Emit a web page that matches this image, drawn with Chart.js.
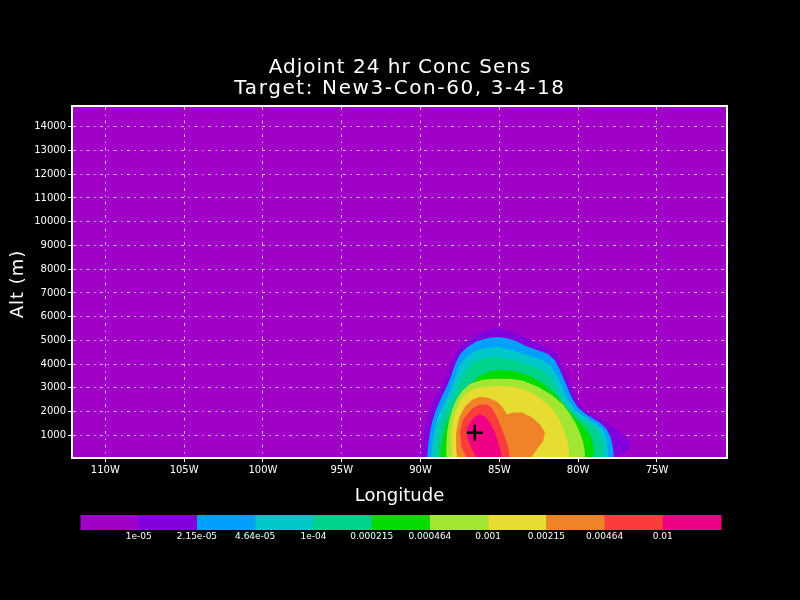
<!DOCTYPE html>
<html>
<head>
<meta charset="utf-8">
<script src="https://cdn.jsdelivr.net/npm/chart.js@4"></script>
<style>
  html, body { margin: 0; padding: 0; background: #000; }
  canvas { display: block; }
</style>
</head>
<body>
<canvas id="sensChart" width="800" height="600"></canvas>
<script>
// tick positions (deg lon / metres)
const lonTicks = [-110, -105, -100, -95, -90, -85, -80, -75];
const altTicks = [1000, 2000, 3000, 4000, 5000, 6000, 7000, 8000, 9000, 10000, 11000, 12000, 13000, 14000];

// shading levels (GrADS rainbow)
const levelColors = ['#a000c8', '#8200dc', '#00a0ff', '#00c8c8', '#00d28c', '#00dc00',
                     '#a0e632', '#e6dc32', '#f08228', '#fa3c3c', '#f00082'];
const levelLabels = ['1e-05', '2.15e-05', '4.64e-05', '1e-04', '0.000215', '0.000464',
                     '0.001', '0.00215', '0.00464', '0.01'];

// contour outlines, [lon, alt] pairs, outer level first
const contour1 = [[-89.96,0],[-89.89,623],[-89.77,1167],[-89.58,1669],[-89.39,2088],[-89.07,2590],
  [-88.69,3050],[-88.37,3510],[-88.12,3929],[-87.87,4347],[-87.49,4724],[-86.98,5017],[-86.35,5268],
  [-85.72,5435],[-85.21,5519],[-84.64,5435],[-84.01,5310],[-83.31,5100],[-82.61,4891],[-81.92,4640],
  [-81.41,4473],[-81.09,4012],[-80.72,3510],[-80.27,2925],[-79.96,2381],[-79.51,2046],[-78.63,1711],
  [-77.74,1335],[-77.11,1000],[-76.73,707],[-76.66,456],[-76.98,289],[-77.61,121],[-77.87,0]];
const contour2 = [[-89.58,0],[-89.51,623],[-89.39,1167],[-89.26,1586],[-89.01,2088],[-88.69,2590],
  [-88.37,3008],[-88.06,3510],[-87.80,4012],[-87.49,4431],[-87.04,4724],[-86.41,4975],[-85.72,5100],
  [-85.15,5142],[-84.58,5100],[-83.94,4975],[-83.31,4766],[-82.61,4598],[-81.92,4431],[-81.47,4180],
  [-81.16,3761],[-80.78,3176],[-80.40,2590],[-80.02,2172],[-79.39,1837],[-78.63,1544],[-78.18,1251],
  [-77.93,916],[-77.80,540],[-77.74,205],[-77.80,0]];
const contour3 = [[-89.32,0],[-89.26,623],[-89.13,1167],[-88.94,1669],[-88.69,2088],[-88.37,2548],
  [-88.06,2966],[-87.80,3427],[-87.49,3929],[-87.11,4305],[-86.54,4556],[-85.78,4682],[-85.15,4724],
  [-84.51,4640],[-83.82,4515],[-83.06,4347],[-82.30,4180],[-81.73,3929],[-81.35,3510],[-80.97,2966],
  [-80.59,2423],[-80.15,2046],[-79.51,1753],[-78.82,1460],[-78.37,1167],[-78.18,833],[-78.12,414],
  [-78.12,0]];
const contour4 = [[-89.07,0],[-89.01,623],[-88.88,1126],[-88.69,1586],[-88.44,2004],[-88.12,2423],
  [-87.80,2841],[-87.49,3301],[-87.11,3761],[-86.60,4096],[-85.91,4264],[-85.15,4305],[-84.45,4222],
  [-83.69,4096],[-82.93,3929],[-82.23,3720],[-81.79,3427],[-81.41,3008],[-81.03,2548],[-80.65,2172],
  [-80.15,1879],[-79.51,1586],[-78.88,1293],[-78.56,958],[-78.44,582],[-78.44,0]];
const contour5 = [[-88.75,0],[-88.69,498],[-88.56,1000],[-88.37,1460],[-88.06,1962],[-87.68,2381],
  [-87.30,2757],[-86.85,3134],[-86.35,3469],[-85.65,3678],[-84.96,3761],[-84.20,3720],[-83.44,3594],
  [-82.68,3385],[-82.04,3092],[-81.47,2757],[-81.03,2381],[-80.59,2046],[-80.15,1711],[-79.64,1377],
  [-79.26,1042],[-79.07,665],[-79.01,331],[-79.01,0]];
const contour6 = [[-88.37,0],[-88.37,623],[-88.31,1167],[-88.18,1669],[-87.99,2088],[-87.74,2506],
  [-87.36,2883],[-86.85,3176],[-86.09,3343],[-85.27,3385],[-84.32,3385],[-83.50,3301],[-82.55,3050],
  [-81.60,2674],[-80.97,2297],[-80.53,1920],[-80.15,1502],[-79.89,1126],[-79.70,749],[-79.58,331],
  [-79.58,0]];
const contour7 = [[-87.99,0],[-88.06,623],[-88.06,1167],[-87.93,1669],[-87.74,2088],[-87.49,2464],
  [-87.11,2757],[-86.60,2966],[-85.91,3050],[-84.96,3092],[-84.13,3050],[-83.37,2925],[-82.61,2674],
  [-81.98,2339],[-81.47,1962],[-81.09,1544],[-80.84,1126],[-80.65,707],[-80.59,331],[-80.59,0]];
const contour8 = [[-87.68,0],[-87.74,540],[-87.74,1126],[-87.55,1753],[-87.17,2213],[-86.73,2506],
  [-86.22,2632],[-85.72,2590],[-85.15,2423],[-84.83,2213],[-84.51,1879],[-84.13,1962],[-83.56,1962],
  [-82.93,1753],[-82.42,1460],[-82.11,1126],[-82.23,749],[-82.61,414],[-83.06,0]];
const contour9 = [[-87.04,0],[-87.42,540],[-87.49,1126],[-87.30,1669],[-86.73,2130],[-86.22,2297],
  [-85.78,2297],[-85.46,2130],[-85.08,1669],[-84.70,1042],[-84.45,540],[-84.32,0]];
const contour10 = [[-86.41,0],[-86.73,414],[-87.04,916],[-87.04,1335],[-86.73,1669],[-86.41,1837],
  [-86.22,1879],[-85.91,1795],[-85.59,1544],[-85.27,1126],[-85.08,707],[-84.89,289],[-84.83,0]];

const contours = [contour1, contour2, contour3, contour4, contour5, contour6, contour7, contour8, contour9, contour10];

// target location marker
const markerLon = -86.56;
const markerAlt = 1110;

const txtFont = '"DejaVu Sans", sans-serif';

const datasets = contours.map((c, i) => ({
    label: levelLabels[i],
    data: c.map(p => ({ x: p[0], y: p[1] })),
    showLine: true,
    fill: 'shape',
    backgroundColor: levelColors[i + 1],
    borderColor: 'transparent',
    borderWidth: 0,
    pointRadius: 0,
    order: 100 - i
}));

datasets.push({
    label: 'target',
    data: [{ x: markerLon, y: markerAlt }],
    pointStyle: 'cross',
    pointRadius: 8,
    borderColor: '#000',
    backgroundColor: '#000',
    borderWidth: 2.5,
    order: 0
});

const gradsDecor = {
    id: 'gradsDecor',
    beforeDraw(chart) {
        const { ctx, chartArea: a } = chart;
        ctx.save();
        ctx.fillStyle = '#000';
        ctx.fillRect(0, 0, chart.width, chart.height);
        ctx.fillStyle = levelColors[0];
        ctx.fillRect(a.left, a.top, a.right - a.left, a.bottom - a.top);
        ctx.restore();
    },
    afterDraw(chart) {
        const { ctx, chartArea: a } = chart;
        ctx.save();
        // frame
        ctx.strokeStyle = '#fff';
        ctx.lineWidth = 2;
        ctx.strokeRect(a.left - 1, a.top - 1, a.right - a.left + 2, a.bottom - a.top + 2);

        // titles
        ctx.fillStyle = '#fff';
        ctx.textAlign = 'center';
        ctx.textBaseline = 'alphabetic';
        ctx.font = '20px ' + txtFont;
        ctx.letterSpacing = '1px';
        ctx.fillText('Adjoint 24 hr Conc Sens', 400, 73);
        ctx.letterSpacing = '1.6px';
        ctx.fillText('Target: New3-Con-60, 3-4-18', 400, 94);

        ctx.font = '18px ' + txtFont;
        ctx.letterSpacing = '0px';
        ctx.fillText('Longitude', (a.left + a.right) / 2, 501);

        ctx.save();
        ctx.translate(23, (a.top + a.bottom) / 2 + 2);
        ctx.rotate(-Math.PI / 2);
        ctx.letterSpacing = '1px';
        ctx.fillText('Alt (m)', 0, 0);
        ctx.restore();
        ctx.letterSpacing = '0px';

        // colour bar
        const x0 = 80.5, x1 = 721, y0 = 515, h = 15;
        const w = (x1 - x0) / levelColors.length;
        levelColors.forEach((c, i) => {
            ctx.fillStyle = c;
            ctx.fillRect(x0 + i * w, y0, w + 0.5, h);
        });
        ctx.fillStyle = '#fff';
        ctx.font = '9px ' + txtFont;
        ctx.textBaseline = 'middle';
        levelLabels.forEach((l, i) => {
            ctx.fillText(l, x0 + (i + 1) * w, y0 + h + 7);
        });
        ctx.restore();
    }
};

new Chart(document.getElementById('sensChart'), {
    type: 'scatter',
    data: { datasets: datasets },
    plugins: [gradsDecor],
    options: {
        responsive: false,
        animation: false,
        events: [],
        layout: { padding: { top: 107, right: 74, left: 0, bottom: 0 } },
        plugins: { legend: { display: false }, tooltip: { enabled: false } },
        scales: {
            x: {
                type: 'linear',
                min: -112.05,
                max: -70.62,
                z: 1,
                afterBuildTicks: s => { s.ticks = lonTicks.map(v => ({ value: v })); },
                afterFit: s => { s.height = 143; },
                ticks: {
                    color: '#fff',
                    font: { family: txtFont, size: 10 },
                    padding: 2,
                    maxRotation: 0,
                    autoSkip: false,
                    callback: v => (-v) + 'W'
                },
                grid: { color: '#bdbdbd', lineWidth: 1, tickLength: 5, tickColor: '#fff', tickWidth: 1 },
                border: { display: false, dash: [3, 4.5, 1.5, 4.5] }
            },
            y: {
                type: 'linear',
                min: 90,
                max: 14830,
                z: 1,
                afterBuildTicks: s => { s.ticks = altTicks.map(v => ({ value: v })); },
                afterFit: s => { s.width = 73; },
                ticks: {
                    color: '#fff',
                    font: { family: txtFont, size: 10 },
                    padding: 2,
                    autoSkip: false,
                    callback: v => String(v)
                },
                grid: { color: '#bdbdbd', lineWidth: 1, tickLength: 5, tickColor: '#fff', tickWidth: 1 },
                border: { display: false, dash: [3, 4.5, 1.5, 4.5] }
            }
        }
    }
});
</script>
</body>
</html>
